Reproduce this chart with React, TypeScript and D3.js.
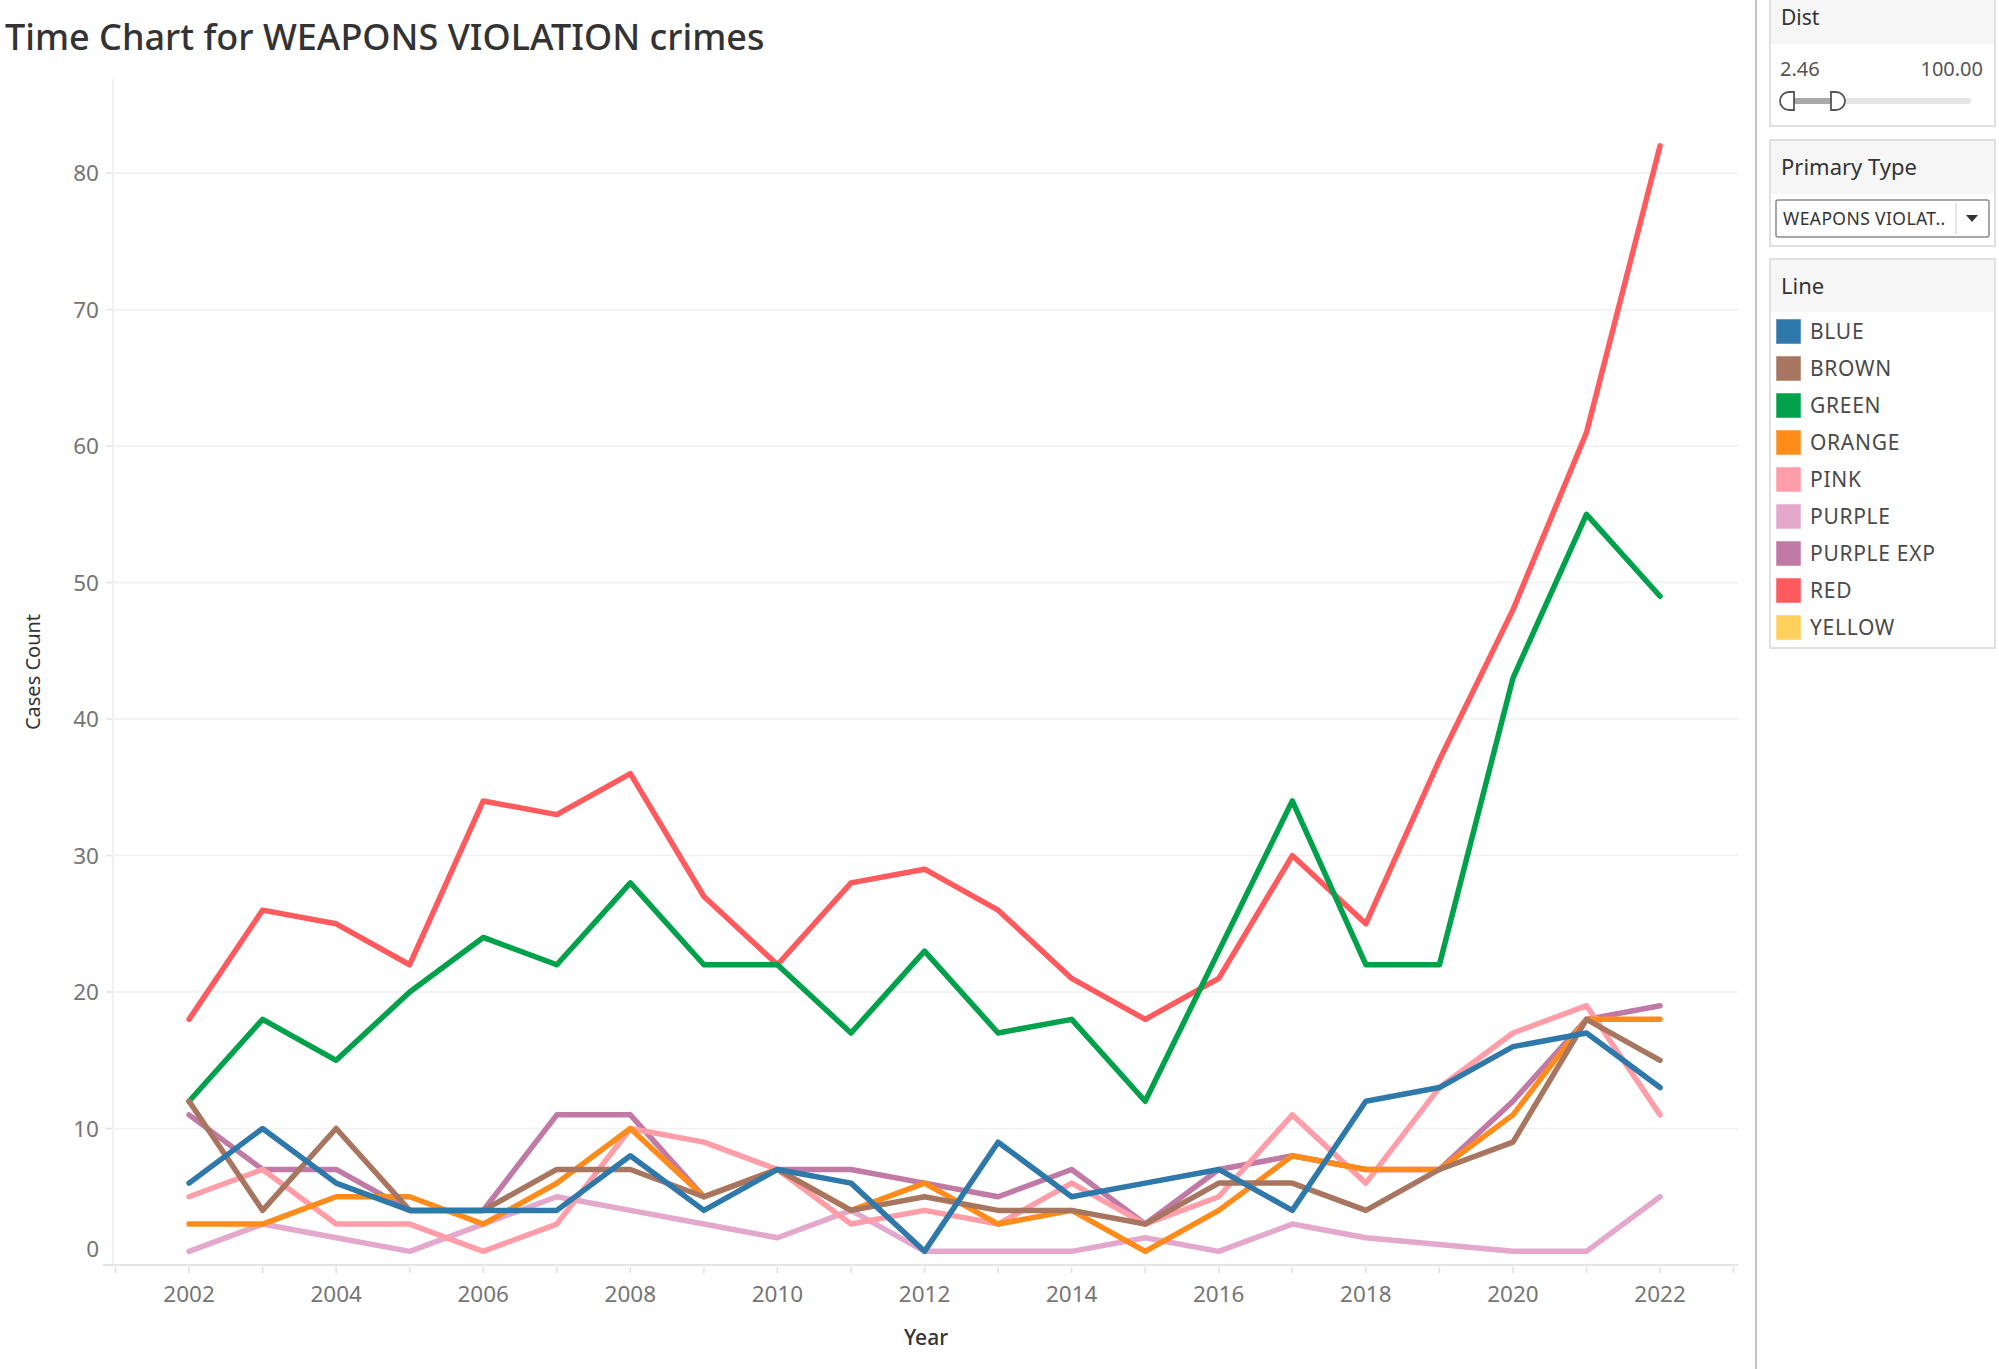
import React from 'react';
import * as d3 from 'd3';

// Dist filter, primary type and legend values
const years = [2002, 2003, 2004, 2005, 2006, 2007, 2008, 2009, 2010, 2011, 2012, 2013, 2014, 2015, 2016, 2017, 2018, 2019, 2020, 2021, 2022];
const lineNames = ['BLUE', 'BROWN', 'GREEN', 'ORANGE', 'PINK', 'PURPLE', 'PURPLE EXP', 'RED', 'YELLOW'];
const lineColors = ['#2e78aa', '#a87660', '#00a14b', '#ff8c1a', '#ff9ea8', '#e4a8cd', '#c17aa6', '#ff5a5e', '#ffd15c'];

const blue = [6, 10, 6, 4, 4, 4, 8, 4, 7, 6, 1, 9, 5, 6, 7, 4, 12, 13, 16, 17, 13];
const brown = [12, 4, 10, 4, 4, 7, 7, 5, 7, 4, 5, 4, 4, 3, 6, 6, 4, 7, 9, 18, 15];
const green = [12, 18, 15, 20, 24, 22, 28, 22, 22, 17, 23, 17, 18, 12, 23, 34, 22, 22, 43, 55, 49];
const orange = [3, 3, 5, 5, 3, 6, 10, 5, 7, 4, 6, 3, 4, 1, 4, 8, 7, 7, 11, 18, 18];
const pink = [5, 7, 3, 3, 1, 3, 10, 9, 7, 3, 4, 3, 6, 3, 5, 11, 6, 13, 17, 19, 11];
const purple = [1, 3, 2, 1, 3, 5, 4, 3, 2, 4, 1, 1, 1, 2, 1, 3, 2, null, 1, 1, 5];
const purpleExp = [11, 7, 7, 4, 4, 11, 11, 5, 7, 7, 6, 5, 7, 3, 7, 8, 7, 7, 12, 18, 19];
const red = [18, 26, 25, 22, 34, 33, 36, 27, 22, 28, 29, 26, 21, 18, 21, 30, 25, 37, 48, 61, 82];
const yellow: (number | null)[] = [];

const seriesValues: (number | null)[][] = [blue, brown, green, orange, pink, purple, purpleExp, red, yellow];

const yTicks = [0, 10, 20, 30, 40, 50, 60, 70, 80];
const xTickLabels = [2002, 2004, 2006, 2008, 2010, 2012, 2014, 2016, 2018, 2020, 2022];
const xMinorTicks = [2001, 2002, 2003, 2004, 2005, 2006, 2007, 2008, 2009, 2010, 2011, 2012, 2013, 2014, 2015, 2016, 2017, 2018, 2019, 2020, 2021, 2022, 2023];

const distMin = '2.46';
const distMax = '100.00';
const primaryType = 'WEAPONS VIOLAT..';

const FONT = '"Noto Sans", "Open Sans", sans-serif';

export default function App() {
  const plot = { left: 114, right: 1738, top: 79, bottom: 1265 };

  const x = d3.scaleLinear().domain([2001, 2023]).range([115.5, 1733.6]);
  const y = d3.scaleLinear().domain([0, 86.9]).range([plot.bottom, plot.top]);

  const line = d3
    .line<{ year: number; value: number }>()
    .x((d) => x(d.year))
    .y((d) => y(d.value));

  // Tableau connects across missing years, so drop nulls instead of breaking the path
  const series = lineNames.map((name, i) => ({
    name,
    color: lineColors[i],
    points: years
      .map((year, j) => ({ year, value: seriesValues[i][j] }))
      .filter((d) => d.value !== null && d.value !== undefined) as { year: number; value: number }[],
  }));

  // first legend entry ends up on top
  const drawOrder = [...series].reverse();

  const legendTop = 319;
  const legendStep = 37;

  return (
    <div style={{ position: 'absolute', left: 0, top: 0 }}>
      <svg width={1999} height={1369} style={{ display: 'block', fontFamily: FONT }}>
        <rect x={0} y={0} width={1999} height={1369} fill="#ffffff" />

        {/* title */}
        <text x={5} y={50} fontSize={36} fontWeight={500} fill="#333333">
          Time Chart for WEAPONS VIOLATION crimes
        </text>

        {/* gridlines */}
        {yTicks.map((t) => (
          <line key={'g' + t} x1={plot.left} x2={plot.right} y1={y(t)} y2={y(t)} stroke="#f0f0f0" strokeWidth={1.5} />
        ))}

        {/* y axis */}
        <line x1={plot.left - 1} x2={plot.left - 1} y1={plot.top} y2={plot.bottom} stroke="#ededed" strokeWidth={1.5} />
        {yTicks.map((t) => (
          <g key={'y' + t}>
            <line x1={plot.left - 8} x2={plot.left - 2} y1={y(t)} y2={y(t)} stroke="#e2e2e2" strokeWidth={1.5} />
            <text
              x={99}
              y={t === 0 ? y(t) - 16 : y(t)}
              dy="0.36em"
              textAnchor="end"
              fontSize={22.5}
              fill="#757575"
            >
              {t}
            </text>
          </g>
        ))}

        {/* x axis */}
        <line x1={103} x2={plot.right} y1={plot.bottom} y2={plot.bottom} stroke="#e4e4e4" strokeWidth={2} />
        {xMinorTicks.map((t) => (
          <line key={'m' + t} x1={x(t)} x2={x(t)} y1={plot.bottom + 2} y2={plot.bottom + 8} stroke="#e0e0e0" strokeWidth={1.5} />
        ))}
        {xTickLabels.map((t) => (
          <text key={'x' + t} x={x(t)} y={1302} textAnchor="middle" fontSize={22.5} fill="#757575">
            {t}
          </text>
        ))}

        <text x={(plot.left + plot.right) / 2} y={1345} textAnchor="middle" fontSize={21} fontWeight={500} fill="#333333">
          Year
        </text>
        <text
          transform={`translate(40,${(plot.top + plot.bottom) / 2}) rotate(-90)`}
          textAnchor="middle"
          fontSize={20}
          fill="#333333"
        >
          Cases Count
        </text>

        {/* lines */}
        {drawOrder.map((s) =>
          s.points.length > 1 ? (
            <path
              key={s.name}
              d={line(s.points) || ''}
              fill="none"
              stroke={s.color}
              strokeWidth={5.5}
              strokeLinejoin="round"
              strokeLinecap="round"
            />
          ) : null
        )}

        {/* side panel */}
        <line x1={1756} x2={1756} y1={0} y2={1369} stroke="#c4c4c4" strokeWidth={2} />

        {/* Dist filter */}
        <rect x={1770} y={-2} width={225} height={128} fill="#ffffff" stroke="#d6d6d6" strokeWidth={1.5} />
        <rect x={1771} y={-1} width={223} height={45} fill="#f6f6f6" />
        <text x={1781} y={25} fontSize={21} fill="#333333">Dist</text>
        <text x={1780} y={76} fontSize={20} fill="#555555">{distMin}</text>
        <text x={1983} y={76} fontSize={20} fill="#555555" textAnchor="end">{distMax}</text>
        <rect x={1785} y={98} width={186} height={6} rx={3} fill="#e6e6e6" />
        <rect x={1790} y={98} width={46} height={6} fill="#a9a9a9" />
        <path d="M1794,92 L1789,92 A9,9 0 0 0 1789,110 L1794,110 Z" fill="#ffffff" stroke="#555555" strokeWidth={1.8} />
        <path d="M1831,92 L1836,92 A9,9 0 0 1 1836,110 L1831,110 Z" fill="#ffffff" stroke="#555555" strokeWidth={1.8} />

        {/* Primary Type filter */}
        <rect x={1770} y={140} width={225} height={106} fill="#ffffff" stroke="#d6d6d6" strokeWidth={1.5} />
        <rect x={1771} y={141} width={223} height={53} fill="#f6f6f6" />
        <text x={1781} y={175} fontSize={22} fill="#333333">Primary Type</text>
        <rect x={1776} y={200} width={213} height={37} rx={2} fill="#ffffff" stroke="#8a8a8a" strokeWidth={1.5} />
        <text x={1783} y={225} fontSize={17.5} fill="#333333" letterSpacing={0.4}>{primaryType}</text>
        <line x1={1956} x2={1956} y1={203} y2={234} stroke="#dddddd" strokeWidth={1.5} />
        <path d="M1966,215 L1978,215 L1972,222 Z" fill="#333333" />

        {/* Line legend */}
        <rect x={1770} y={259} width={225} height={389} fill="#ffffff" stroke="#d6d6d6" strokeWidth={1.5} />
        <rect x={1771} y={260} width={223} height={52} fill="#f6f6f6" />
        <text x={1781} y={294} fontSize={22} fill="#333333">Line</text>
        {series.map((s, i) => (
          <g key={'l' + s.name}>
            <rect
              x={1776}
              y={legendTop + i * legendStep}
              width={25}
              height={25}
              fill={s.color}
              stroke="#ffffff"
              strokeOpacity={0.5}
              strokeWidth={1}
            />
            <text
              x={1810}
              y={legendTop + i * legendStep + 12.5}
              dy="0.36em"
              fontSize={21}
              fill="#4a4a4a"
              letterSpacing={0.7}
            >
              {s.name}
            </text>
          </g>
        ))}
      </svg>
    </div>
  );
}
